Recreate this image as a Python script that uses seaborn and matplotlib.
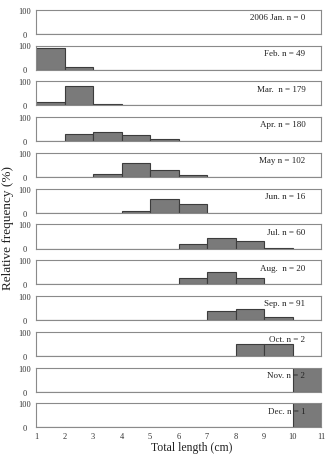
import numpy as np
import pandas as pd
import matplotlib
matplotlib.use("Agg")
import matplotlib.pyplot as plt
import seaborn as sns

sns.set_theme(style="white")
plt.rcParams['font.family'] = ['Liberation Serif', 'DejaVu Serif']

# Data: relative frequency (%) per 1-cm length class (1-2, 2-3, ..., 10-11)
months = ["2006 Jan. n = 0", "Feb. n = 49", "Mar.  n = 179", "Apr. n = 180",
          "May n = 102", "Jun. n = 16", "Jul. n = 60", "Aug.  n = 20",
          "Sep. n = 91", "Oct. n = 2", "Nov. n = 2", "Dec. n = 1"]
bin_edges = [1, 2, 3, 4, 5, 6, 7, 8, 9, 10, 11]
jan = [0, 0, 0, 0, 0, 0, 0, 0, 0, 0]
feb = [91, 9, 0, 0, 0, 0, 0, 0, 0, 0]
mar = [13, 81, 6, 0, 0, 0, 0, 0, 0, 0]
apr = [2, 29, 36, 27, 10, 2, 0, 0, 0, 0]
may = [0, 0, 14, 58, 28, 8, 0, 0, 0, 0]
jun = [0, 0, 0, 6.25, 56.25, 37.5, 0, 0, 0, 0]
jul = [0, 0, 0, 0, 0, 18, 45, 33, 4, 0]
aug = [0, 0, 0, 0, 0, 25, 50, 25, 0, 0]
sep = [0, 0, 0, 0, 1, 1, 38, 47, 13, 0]
oct_ = [0, 0, 0, 0, 0, 0, 0, 50, 50, 0]
nov = [0, 0, 0, 0, 0, 0, 0, 0, 0, 100]
dec = [0, 0, 0, 0, 0, 0, 0, 0, 0, 100]
series = [jan, feb, mar, apr, may, jun, jul, aug, sep, oct_, nov, dec]
x_ticks = [1, 2, 3, 4, 5, 6, 7, 8, 9, 10, 11]

rows = []
for m, vals in zip(months, series):
    for lo, v in zip(bin_edges[:-1], vals):
        rows.append({"month": m, "length": lo + 0.5, "pct": v})
df = pd.DataFrame(rows)

W, H = 325, 460
fig = plt.figure(figsize=(W / 100, H / 100), dpi=100)

left_px, right_px = 36, 321
top0, step, ph = 10.7, 35.8, 24.0
frame_col = "#8a8a8a"

for i, m in enumerate(months):
    top = top0 + i * step
    ax = fig.add_axes([left_px / W, 1 - (top + ph) / H, (right_px - left_px) / W, ph / H])
    sub = df[df["month"] == m]
    sns.histplot(data=sub, x="length", weights="pct", bins=bin_edges, ax=ax,
                 color="#7a7a7a", edgecolor="#3c3c3c", linewidth=0.8, alpha=1.0)
    ax.set_xlim(1, 11)
    ax.set_ylim(0, 100)
    ax.set_yticks([0, 100])
    ax.set_yticklabels(["0", "100"], fontsize=6, color="#333333", ha="center")
    ax.set_xlabel("")
    ax.set_ylabel("")
    for s in ax.spines.values():
        s.set_color(frame_col)
        s.set_linewidth(0.8)
    ax.tick_params(axis="y", length=0, pad=8.3)
    ax.text(0.945, 0.86, m, transform=ax.transAxes, ha="right", va="top",
            fontsize=6.5, color="#222222")
    if i == len(months) - 1:
        ax.set_xticks(x_ticks)
        ax.set_xticklabels([str(t) for t in x_ticks], fontsize=6, color="#333333")
        ax.tick_params(axis="x", direction="in", length=2, color="#777777", pad=3)
    else:
        ax.set_xticks([])

fig.text(192 / W, 1 - 448 / H, "Total length (cm)", ha="center", va="center",
         fontsize=8.5, color="#222222")
fig.text(8.5 / W, 1 - 228 / H, "Relative frequency (%)", rotation=90,
         ha="center", va="center", fontsize=9.5, color="#222222")

fig.savefig("out.png", dpi=100)
